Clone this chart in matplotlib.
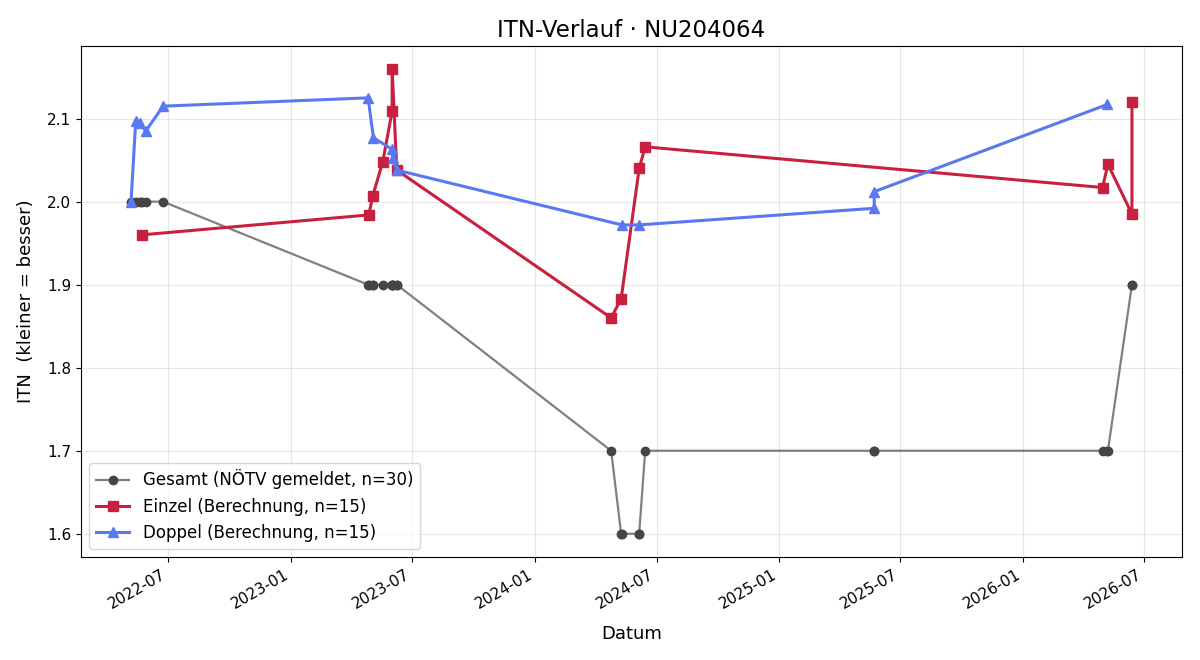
import numpy as np
import pandas as pd
import matplotlib
matplotlib.use("Agg")
import matplotlib.pyplot as plt

# Doppel (Berechnung)
doppel_dates = ["2022-05-06", "2022-05-13", "2022-05-19", "2022-05-28", "2022-06-23",
                "2023-04-26", "2023-05-04", "2023-06-01", "2023-06-02", "2023-06-08",
                "2024-05-10", "2024-06-05", "2025-05-23", "2025-05-23", "2026-05-07"]
doppel_itn = [2.000, 2.097, 2.095, 2.085, 2.115,
              2.125, 2.077, 2.063, 2.052, 2.038,
              1.972, 1.972, 1.992, 2.012, 2.117]

# Einzel (Berechnung)
einzel_dates = ["2022-05-22", "2023-04-27", "2023-05-03", "2023-05-18", "2023-06-01",
                "2023-06-01", "2023-06-08", "2024-04-24", "2024-05-09", "2024-06-05",
                "2024-06-14", "2026-04-30", "2026-05-08", "2026-06-13", "2026-06-13"]
einzel_itn = [1.960, 1.984, 2.007, 2.048, 2.109,
              2.160, 2.038, 1.860, 1.883, 2.040,
              2.066, 2.017, 2.045, 1.985, 2.120]

# Gesamt (NÖTV gemeldet)
gesamt_dates = ["2022-05-06", "2022-05-13", "2022-05-19", "2022-05-22", "2022-05-28", "2022-06-23",
                "2023-04-26", "2023-04-27", "2023-05-03", "2023-05-04", "2023-05-18",
                "2023-06-01", "2023-06-01", "2023-06-01", "2023-06-02", "2023-06-08", "2023-06-08",
                "2024-04-24", "2024-05-09", "2024-05-10", "2024-06-05", "2024-06-05", "2024-06-14",
                "2025-05-23", "2025-05-23",
                "2026-04-30", "2026-05-07", "2026-05-08", "2026-06-13", "2026-06-13"]
gesamt_itn = [2.0, 2.0, 2.0, 2.0, 2.0, 2.0,
              1.9, 1.9, 1.9, 1.9, 1.9,
              1.9, 1.9, 1.9, 1.9, 1.9, 1.9,
              1.7, 1.6, 1.6, 1.6, 1.6, 1.7,
              1.7, 1.7,
              1.7, 1.7, 1.7, 1.9, 1.9]

fig, ax = plt.subplots(figsize=(12, 6.6), dpi=100)

ax.plot(pd.to_datetime(gesamt_dates), gesamt_itn, marker="o", markersize=6,
        color="#808080", mfc="#454545", mec="#454545", linewidth=1.6,
        label="Gesamt (NÖTV gemeldet, n=%d)" % len(gesamt_itn))
ax.plot(pd.to_datetime(einzel_dates), einzel_itn, marker="s", markersize=7,
        color="#c8203e", linewidth=2.2,
        label="Einzel (Berechnung, n=%d)" % len(einzel_itn))
ax.plot(pd.to_datetime(doppel_dates), doppel_itn, marker="^", markersize=7,
        color="#5a78f0", linewidth=2.2,
        label="Doppel (Berechnung, n=%d)" % len(doppel_itn))

ax.set_title("ITN-Verlauf · NU204064", fontsize=16.5)
ax.set_xlabel("Datum", fontsize=13, labelpad=10)
ax.set_ylabel("ITN  (kleiner = besser)", fontsize=13, labelpad=9)
ax.tick_params(labelsize=11)
ax.grid(True, alpha=0.3)
ax.legend(loc="lower left", fontsize=12)
ax.xaxis.set_major_formatter(matplotlib.dates.DateFormatter("%Y-%m"))
fig.autofmt_xdate()

plt.subplots_adjust(left=0.0675, right=0.985, top=0.931, bottom=0.156)
plt.savefig("out.png")
